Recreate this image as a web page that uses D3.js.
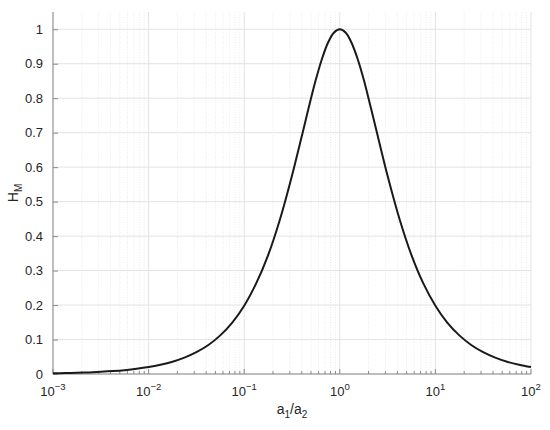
<!DOCTYPE html>
<html><head><meta charset="utf-8">
<script src="https://cdn.jsdelivr.net/npm/d3@7"></script>
<style>body{margin:0;background:#fff}</style>
</head><body>
<svg id="c" width="550" height="430"></svg>
<script>
const ratio = [0.001,0.00133,0.00178,0.00237,0.00316,0.00422,0.00562,0.0075,0.01,0.0133,0.0178,0.0237,0.0316,0.0422,0.0562,0.075,0.1,0.133,0.178,0.237,0.316,0.422,0.487,0.562,0.649,0.75,0.866,1,1.155,1.33,1.54,1.78,2.05,2.37,3.16,4.22,5.62,7.5,10,13.3,17.8,23.7,31.6,42.2,56.2,75,100];
const hm = [0.002,0.0027,0.0036,0.0047,0.0063,0.0084,0.0112,0.015,0.02,0.0267,0.0356,0.0474,0.0632,0.0842,0.112,0.149,0.198,0.262,0.345,0.449,0.575,0.716,0.787,0.854,0.913,0.96,0.99,1,0.99,0.96,0.913,0.854,0.787,0.716,0.575,0.449,0.345,0.262,0.198,0.149,0.112,0.0842,0.0632,0.0474,0.0356,0.0267,0.02];
const xTicks = [-3,-2,-1,0,1,2];
const yTicks = [0,0.1,0.2,0.3,0.4,0.5,0.6,0.7,0.8,0.9,1];
const xLabel = "a1/a2", yLabel = "HM";

const svg = d3.select("#c");
const L=53, R=531, T=12, B=374;
const x = d3.scaleLog().domain([1e-3,1e2]).range([L,R]);
const y = d3.scaleLinear().domain([0,1.05]).range([B,T]);
const font = "'Liberation Sans', Arial, sans-serif";

// minor x grid
const minors = [];
for (let e=-3;e<2;e++) for (let m=2;m<=9;m++) minors.push(m*Math.pow(10,e));
svg.append("g").selectAll("line").data(minors).join("line")
  .attr("x1",d=>x(d)).attr("x2",d=>x(d)).attr("y1",T).attr("y2",B)
  .attr("stroke","#e6e6e6").attr("stroke-width",0.8).attr("stroke-dasharray","1,1.5");
// major grid
svg.append("g").selectAll("line").data(xTicks).join("line")
  .attr("x1",d=>x(Math.pow(10,d))).attr("x2",d=>x(Math.pow(10,d))).attr("y1",T).attr("y2",B)
  .attr("stroke","#e3e3e3").attr("stroke-width",1);
svg.append("g").selectAll("line").data(yTicks).join("line")
  .attr("x1",L).attr("x2",R).attr("y1",d=>y(d)).attr("y2",d=>y(d))
  .attr("stroke","#e3e3e3").attr("stroke-width",1);

// axes
const yAxis = d3.axisLeft(y).tickValues(yTicks).tickSize(-5).tickPadding(10).tickFormat(d3.format("~g"));
const gy = svg.append("g").attr("transform",`translate(${L},0)`).call(yAxis);
gy.select(".domain").attr("d",`M0,${T}V${B}`).attr("stroke","#8a8a8a");
gy.selectAll(".tick line").attr("stroke","#8a8a8a");
gy.selectAll("text").attr("font-family",font).attr("font-size",13).attr("fill","#262626");

const gx = svg.append("g").attr("transform",`translate(0,${B})`);
gx.append("line").attr("x1",L).attr("x2",R).attr("stroke","#8a8a8a");
gx.selectAll(".mn").data(minors).join("line").attr("class","mn")
  .attr("x1",d=>x(d)).attr("x2",d=>x(d)).attr("y1",0).attr("y2",-3).attr("stroke","#8a8a8a");
gx.selectAll(".mj").data(xTicks).join("line").attr("class","mj")
  .attr("x1",d=>x(Math.pow(10,d))).attr("x2",d=>x(Math.pow(10,d))).attr("y1",0).attr("y2",-5).attr("stroke","#8a8a8a");
const tl = gx.selectAll(".tl").data(xTicks).join("text").attr("class","tl")
  .attr("x",d=>x(Math.pow(10,d))).attr("y",22).attr("text-anchor","middle")
  .attr("font-family",font).attr("font-size",13).attr("fill","#262626");
tl.append("tspan").text("10");
tl.append("tspan").attr("dy",-6).attr("font-size",9.5).text(d=>d<0?"\u2212"+(-d):d);

// curve
const pts = ratio.map((r,i)=>[r,hm[i]]);
svg.append("path").datum(pts)
  .attr("d",d3.line().x(d=>x(d[0])).y(d=>y(d[1])).curve(d3.curveCatmullRom.alpha(0.5)))
  .attr("fill","none").attr("stroke","#1a1a1a").attr("stroke-width",2);

// labels
const xl = svg.append("text").attr("x",(L+R)/2).attr("y",414).attr("text-anchor","middle")
  .attr("font-family",font).attr("font-size",14).attr("fill","#262626");
xl.append("tspan").text("a");
xl.append("tspan").attr("dy",4).attr("font-size",10).text("1");
xl.append("tspan").attr("dy",-4).text("/a");
xl.append("tspan").attr("dy",4).attr("font-size",10).text("2");

const yl = svg.append("text").attr("transform",`translate(18,${(T+B)/2}) rotate(-90)`).attr("text-anchor","middle")
  .attr("font-family",font).attr("font-size",14).attr("fill","#262626");
yl.append("tspan").text("H");
yl.append("tspan").attr("dy",4).attr("font-size",10).text("M");
</script>
</body></html>
